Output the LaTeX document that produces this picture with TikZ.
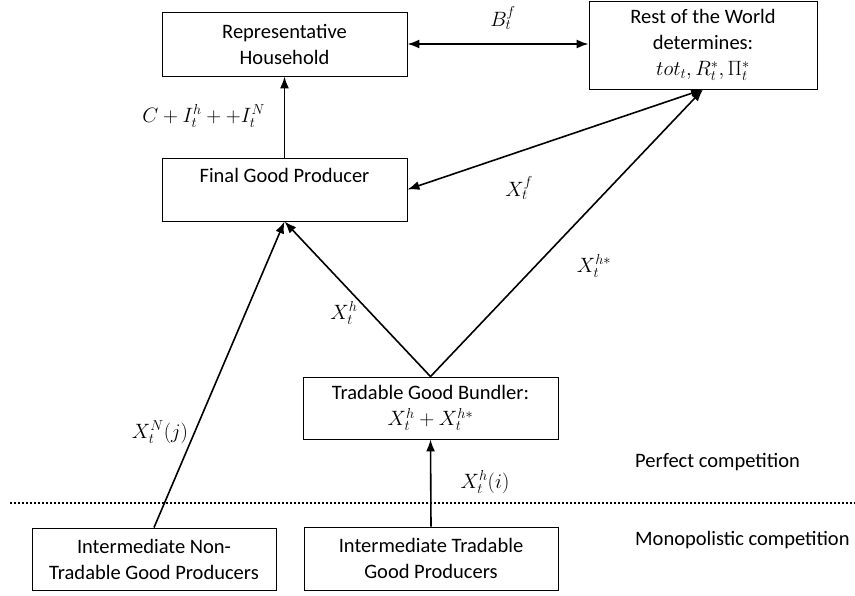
\documentclass[tikz,border=0pt]{standalone}
\usepackage{fontspec}
\setmainfont{Carlito}
\usetikzlibrary{arrows.meta}
\begin{document}
\begin{tikzpicture}[x=1pt,y=-1pt,
  box/.style={draw, line width=0.9pt, inner sep=0pt, align=center, font=\fontsize{20.5}{26}\selectfont},
  lbl/.style={inner sep=0pt, font=\fontsize{20.5}{26}\selectfont},
  arr/.style={line width=1.6pt, -{Latex[length=12pt,width=9pt]}},
  dbl/.style={line width=1.6pt, {Latex[length=12pt,width=9pt]}-{Latex[length=12pt,width=9pt]}},
  dotline/.style={line width=2pt, dash pattern=on 2pt off 2pt}]
\useasboundingbox (0,0) rectangle (855,596);
% boxes
\node[box, minimum width=245pt, minimum height=64pt] (rep) at (284.5,44) {Representative\\Household};
\node[box, minimum width=228pt, minimum height=88pt] (row) at (703,45) {Rest of the World\\determines:\\$tot_t, R_t^*, \Pi_t^*$};
\node[box, minimum width=245pt, minimum height=63pt] (fin) at (284.5,189.5) {\raisebox{-5pt}{Final Good Producer}\\\strut};
\node[box, minimum width=255pt, minimum height=62pt] (bund) at (430.5,408) {Tradable Good Bundler:\\$X_t^h + X_t^{h*}$};
\node[box, minimum width=244pt, minimum height=62pt] (nt) at (154,559) {Intermediate Non-\\Tradable Good Producers};
\node[box, minimum width=254pt, minimum height=63pt] (it) at (431,558.5) {Intermediate Tradable\\Good Producers};
% connectors
\draw[arr] (fin.north) -- (rep.south);
\draw[dbl] (rep.east) -- (rep.east -| row.west);
\draw[dbl] (row.south) -- (fin.east);
\draw[arr] (bund.north) -- (row.south);
\draw[arr] (bund.north) -- (fin.south);
\draw[arr] (nt.north) -- (fin.south);
\draw[arr] (it.north) -- (bund.south);
% dotted separator
\coordinate (dl) at (10,503);
\coordinate (dr) at (855,503);
\draw[dotline] (dl) -- (dr);
% labels
\node[lbl] (lb) at (503,18) {$B_t^f$};
\node[lbl, anchor=east] (lc) at (265,116) {$C + I_t^h + +I_t^N$};
\node[lbl] (lxf) at (519,188) {$X_t^f$};
\node[lbl] (lxhs) at (594,266) {$X_t^{h*}$};
\node[lbl] (lxh) at (344,313) {$X_t^h$};
\node[lbl] (lxn) at (160,432) {$X_t^N(j)$};
\node[lbl] (lxi) at (485,482) {$X_t^h(i)$};
\node[lbl, anchor=west] (pc) at (635,462) {Perfect competition};
\node[lbl, anchor=west] (mc) at (635,540) {Monopolistic competition};
\end{tikzpicture}
\end{document}
